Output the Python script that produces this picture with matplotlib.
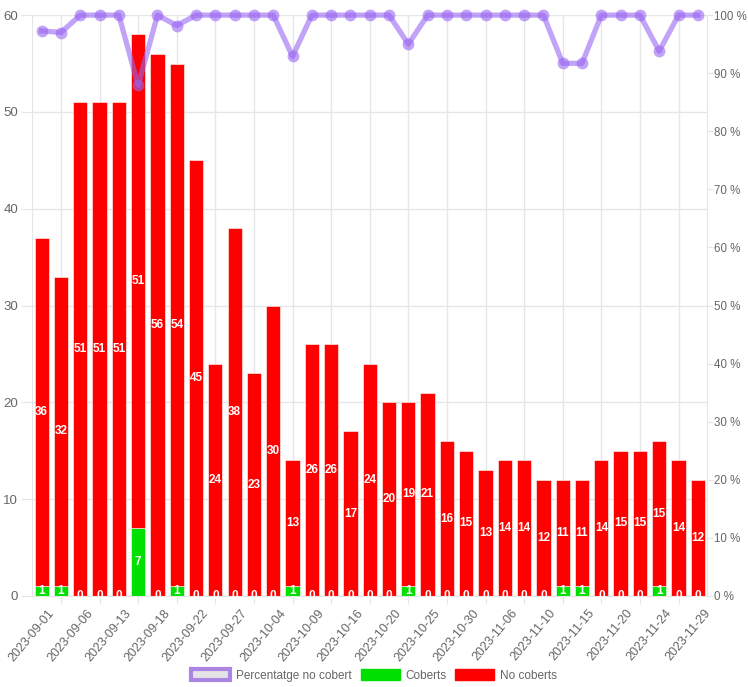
"""
Coberts vs no coberts per dia, amb el percentatge no cobert a l'eix dret.
"""

import matplotlib

matplotlib.use("Agg")

import matplotlib.pyplot as plt
import numpy as np
from matplotlib.patches import Patch
from matplotlib.ticker import FuncFormatter, MultipleLocator

plt.rcParams["font.family"] = ["Liberation Sans", "DejaVu Sans"]

# one label shown for every other bar
shown_dates = [
    "2023-09-01", "2023-09-06", "2023-09-13", "2023-09-18", "2023-09-22",
    "2023-09-27", "2023-10-04", "2023-10-09", "2023-10-16", "2023-10-20",
    "2023-10-25", "2023-10-30", "2023-11-06", "2023-11-10", "2023-11-15",
    "2023-11-20", "2023-11-24", "2023-11-29",
]
coberts = [1, 1, 0, 0, 0, 7, 0, 1, 0, 0, 0, 0, 0, 1, 0, 0, 0, 0,
           0, 1, 0, 0, 0, 0, 0, 0, 0, 1, 1, 0, 0, 0, 1, 0, 0]
no_coberts = [36, 32, 51, 51, 51, 51, 56, 54, 45, 24, 38, 23, 30, 13, 26, 26, 17, 24,
              20, 19, 21, 16, 15, 13, 14, 14, 12, 11, 11, 14, 15, 15, 15, 14, 12]
pct_no_cobert = [97.3, 97.0, 100, 100, 100, 87.9, 100, 98.2, 100, 100, 100, 100,
                 100, 92.9, 100, 100, 100, 100, 100, 95.0, 100, 100, 100, 100,
                 100, 100, 100, 91.7, 91.7, 100, 100, 100, 93.8, 100, 100]

GRID = "#e6e6e6"
TXT = "#666666"
RED = "#ff0000"
GREEN = "#00e000"
PURPLE = (0.6, 0.4, 0.95)


def main() -> None:
    fig = plt.figure(figsize=(7.48, 6.87), dpi=100)
    ax = fig.add_axes([0.0428, 0.1325, 0.903, 0.8455])
    ax2 = ax.twinx()

    n = len(coberts)
    x = np.arange(n)
    cob = np.array(coberts)
    nocob = np.array(no_coberts)

    ax.bar(x, cob, width=0.74, color=GREEN, edgecolor="white", linewidth=0.4, zorder=2)
    ax.bar(x, nocob, bottom=cob, width=0.74, color=RED, edgecolor="white",
           linewidth=0.4, zorder=2)

    lab = dict(color="white", fontsize=8.5, fontweight="bold", ha="center",
               va="center", zorder=4)
    for i in range(n):
        ax.text(x[i], cob[i] / 2, str(cob[i]), **lab)
        ax.text(x[i], cob[i] + nocob[i] / 2, str(nocob[i]), **lab)

    ax.set_xlim(-0.5, n - 0.5)
    ax.set_ylim(0, 60)
    ax.yaxis.set_major_locator(MultipleLocator(10))
    ax.grid(True, axis="both", color=GRID, linewidth=1, zorder=0)
    ax.set_axisbelow(True)

    # grid/tick marks fall on odd bars, labels on even bars (nudged right a bit)
    ax.set_xticks(x[1::2])
    ax.set_xticklabels([])
    ax.set_xticks(x[0::2] + 0.3, minor=True)
    ax.set_xticklabels(shown_dates, minor=True, rotation=50, ha="right",
                       rotation_mode="anchor", fontsize=9, color=TXT)
    ax.tick_params(axis="x", which="major", length=6, color=GRID)
    ax.tick_params(axis="x", which="minor", length=0, pad=8)
    ax.tick_params(axis="y", length=8, color=GRID, labelsize=9.5, labelcolor=TXT, pad=2)

    for side in ("top", "right"):
        ax.spines[side].set_visible(False)
    for side in ("left", "bottom"):
        ax.spines[side].set_color(GRID)

    ax2.plot(x, pct_no_cobert, color=PURPLE, alpha=0.6, linewidth=3.8,
             marker="o", markersize=8.5, markeredgewidth=0, zorder=5, clip_on=False)
    ax2.set_ylim(0, 100)
    ax2.yaxis.set_major_locator(MultipleLocator(10))
    ax2.yaxis.set_major_formatter(FuncFormatter(lambda v, _: f"{v:.0f} %"))
    ax2.tick_params(axis="y", length=4, color=GRID, labelsize=8.3, labelcolor=TXT, pad=1)
    for side in ("top", "left", "bottom"):
        ax2.spines[side].set_visible(False)
    ax2.spines["right"].set_color(GRID)
    ax2.set_zorder(ax.get_zorder() + 1)
    ax2.patch.set_visible(False)

    handles = [
        Patch(facecolor="#e4e4e4", edgecolor=(0.67, 0.52, 0.9), linewidth=3,
              label="Percentatge no cobert"),
        Patch(facecolor=GREEN, edgecolor=GREEN, label="Coberts"),
        Patch(facecolor=RED, edgecolor=RED, label="No coberts"),
    ]
    leg = fig.legend(handles=handles, loc="center", bbox_to_anchor=(0.5, 0.017),
                     ncol=3, frameon=False, fontsize=8.5, handlelength=3.3,
                     handleheight=1.1, columnspacing=0.8, handletextpad=0.45)
    for t in leg.get_texts():
        t.set_color(TXT)

    fig.savefig("out.png", dpi=100)
    plt.close(fig)


if __name__ == "__main__":
    main()
